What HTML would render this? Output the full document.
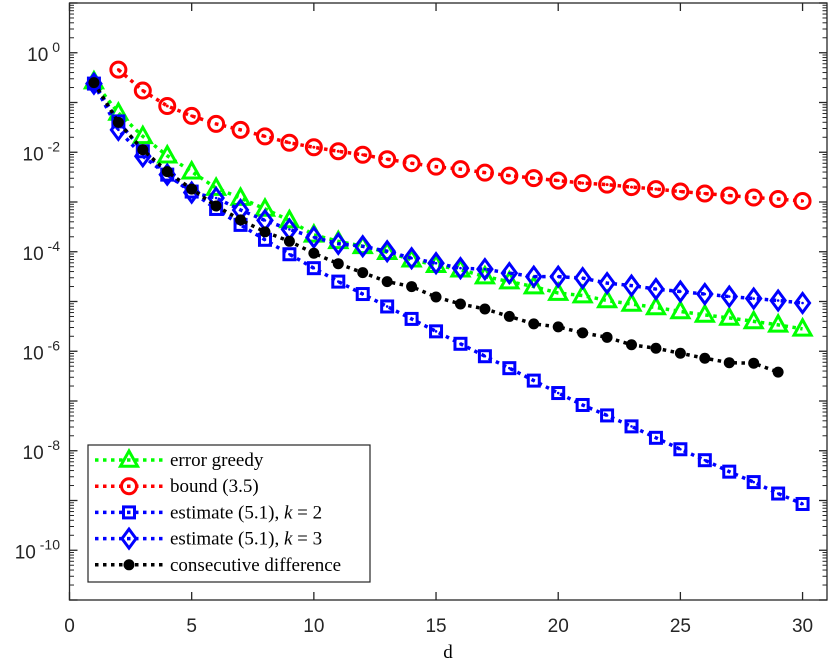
<!DOCTYPE html>
<html><head><meta charset="utf-8"><style>
html,body{margin:0;padding:0;background:#fff;}
svg{display:block;}
.tk{font-family:"Liberation Sans",sans-serif;font-size:19px;fill:#262626;}
.lg{font-family:"Liberation Serif",serif;font-size:19px;fill:#000;}
</style></head><body>
<svg id="chart" width="830" height="663" viewBox="0 0 830 663" xmlns="http://www.w3.org/2000/svg"></svg>
<script>
const dGreen=[1,2,3,4,5,6,7,8,9,10,11,12,13,14,15,16,17,18,19,20,21,22,23,24,25,26,27,28,29,30];
const logGreen=[-0.58,-1.21,-1.68,-2.07,-2.39,-2.72,-2.92,-3.14,-3.37,-3.66,-3.79,-3.89,-4.01,-4.16,-4.27,-4.36,-4.5,-4.6,-4.7,-4.83,-4.88,-4.98,-5.05,-5.12,-5.2,-5.27,-5.33,-5.4,-5.47,-5.55];
const dRed=[2,3,4,5,6,7,8,9,10,11,12,13,14,15,16,17,18,19,20,21,22,23,24,25,26,27,28,29,30];
const logRed=[-0.34,-0.76,-1.07,-1.27,-1.43,-1.55,-1.68,-1.81,-1.9,-1.98,-2.05,-2.14,-2.22,-2.29,-2.34,-2.41,-2.47,-2.52,-2.57,-2.62,-2.65,-2.7,-2.74,-2.79,-2.83,-2.87,-2.91,-2.94,-2.98];
const dSq=dGreen;
const logSq=[-0.62,-1.38,-1.98,-2.45,-2.79,-3.14,-3.46,-3.76,-4.05,-4.33,-4.6,-4.85,-5.1,-5.35,-5.6,-5.85,-6.1,-6.34,-6.59,-6.84,-7.08,-7.29,-7.51,-7.74,-7.97,-8.19,-8.42,-8.63,-8.86,-9.07];
const dDia=dGreen;
const logDia=[-0.62,-1.55,-2.08,-2.45,-2.81,-2.92,-3.16,-3.37,-3.55,-3.71,-3.84,-3.89,-3.99,-4.13,-4.23,-4.33,-4.35,-4.43,-4.5,-4.5,-4.53,-4.63,-4.68,-4.75,-4.8,-4.85,-4.9,-4.94,-4.98,-5.03];
const dBlk=[1,2,3,4,5,6,7,8,9,10,11,12,13,14,15,16,17,18,19,20,21,22,23,24,25,26,27,28,29];
const logBlk=[-0.6,-1.4,-1.95,-2.39,-2.74,-3.08,-3.36,-3.6,-3.79,-4.03,-4.24,-4.42,-4.6,-4.7,-4.91,-5.05,-5.15,-5.3,-5.45,-5.51,-5.63,-5.72,-5.87,-5.94,-6.04,-6.14,-6.23,-6.24,-6.42];
const xTicks=[0,5,10,15,20,25,30];
const yTickExps=[0,-2,-4,-6,-8,-10];

const L=69.5,R=827,T=3,B=600,XMIN=0,XMAX=31,YMIN=-11,YMAX=1;
const X=v=>L+(v-XMIN)/(XMAX-XMIN)*(R-L);
const Y=v=>B-(v-YMIN)/(YMAX-YMIN)*(B-T);
const svg=document.getElementById('chart');
const NS='http://www.w3.org/2000/svg';
function mk(tag,attrs,parent){const e=document.createElementNS(NS,tag);for(const k in attrs)e.setAttribute(k,attrs[k]);(parent||svg).appendChild(e);return e;}

// axes box
const box=mk('rect',{x:L,y:T,width:R-L,height:B-T,fill:'none',stroke:'#262626','stroke-width':1.3});


// x ticks
xTicks.forEach(t=>{
  const g=mk('g',{});
  
  
  mk('line',{x1:X(t),x2:X(t),y1:B,y2:B-8,stroke:'#262626','stroke-width':1.3},g);
  mk('line',{x1:X(t),x2:X(t),y1:T,y2:T+8,stroke:'#262626','stroke-width':1.3},g);
  const tx=mk('text',{x:X(t),y:632,'text-anchor':'middle',class:'tk'},g);tx.textContent=t;
});
// y ticks major & minor
for(let e=YMIN;e<=YMAX;e++){
  const g=mk('g',{});
  
  
  mk('line',{x1:L,x2:L+8,y1:Y(e),y2:Y(e),stroke:'#262626','stroke-width':1.3},g);
  mk('line',{x1:R,x2:R-8,y1:Y(e),y2:Y(e),stroke:'#262626','stroke-width':1.3},g);
  if(e<YMAX)for(let m=2;m<=9;m++){const yy=Y(e+Math.log10(m));
    mk('line',{x1:L,x2:L+4.5,y1:yy,y2:yy,stroke:'#262626','stroke-width':1},g);
    mk('line',{x1:R,x2:R-4.5,y1:yy,y2:yy,stroke:'#262626','stroke-width':1},g);}
}
yTickExps.forEach(e=>{
  const t=mk('text',{x:60,y:Y(e)+8,'text-anchor':'end',class:'tk'});
  
  
  t.innerHTML='10<tspan dy="-9" font-size="14"> '+e+'</tspan>';
});
const xl=mk('text',{x:448,y:658,'text-anchor':'middle',class:'lg'});


xl.textContent='d';

function marker(kind,cx,cy,g,scale){
  const s=scale||1;
  if(kind==='tri'){const h=9*s;mk('polygon',{points:`${cx},${cy-h} ${cx-h*0.95},${cy+h*0.7} ${cx+h*0.95},${cy+h*0.7}`,fill:'none',stroke:'#00ff00','stroke-width':3},g);}
  else if(kind==='circ'){mk('circle',{cx,cy,r:7.5*s,fill:'none',stroke:'#ff0000','stroke-width':3},g);mk('circle',{cx,cy,r:1.5,fill:'#ff0000'},g);}
  else if(kind==='sq'){const h=5.5*s;mk('rect',{x:cx-h,y:cy-h,width:2*h,height:2*h,fill:'none',stroke:'#0000ff','stroke-width':3},g);mk('circle',{cx,cy,r:1.3,fill:'#0000ff'},g);}
  else if(kind==='dia'){const w=7*s,h=9.5*s;mk('polygon',{points:`${cx},${cy-h} ${cx+w},${cy} ${cx},${cy+h} ${cx-w},${cy}`,fill:'none',stroke:'#0000ff','stroke-width':3},g);mk('circle',{cx,cy,r:1.3,fill:'#0000ff'},g);}
  else {mk('circle',{cx,cy,r:5.5*s,fill:'#000'},g);}
}
function series(name,xs,ys,color,kind){
  const g=mk('g',{});
  
  
  const pts=xs.map((x,i)=>X(x)+','+Y(ys[i])).join(' ');
  mk('polyline',{points:pts,fill:'none',stroke:color,'stroke-width':3.5,'stroke-dasharray':'3.5 4.5'},g);
  xs.forEach((x,i)=>marker(kind,X(x),Y(ys[i]),g));
}
series('series-error-greedy',dGreen,logGreen,'#00ff00','tri');
series('series-bound',dRed,logRed,'#ff0000','circ');
series('series-estimate-k2',dSq,logSq,'#0000ff','sq');
series('series-estimate-k3',dDia,logDia,'#0000ff','dia');
series('series-consecutive-difference',dBlk,logBlk,'#000000','dot');

// legend
const lg=mk('g',{});


mk('rect',{x:88,y:445,width:282,height:137,fill:'#fff',stroke:'#262626','stroke-width':1.2},lg);
const entries=[['error greedy','#00ff00','tri'],['bound (3.5)','#ff0000','circ'],['estimate (5.1), <tspan font-style="italic">k</tspan> = 2','#0000ff','sq'],['estimate (5.1), <tspan font-style="italic">k</tspan> = 3','#0000ff','dia'],['consecutive difference','#000000','dot']];
entries.forEach((en,i)=>{
  const y=460+i*26.2;
  const g=mk('g',{},lg);
  
  
  mk('line',{x1:95,x2:163,y1:y,y2:y,stroke:en[1],'stroke-width':3.5,'stroke-dasharray':'3.5 4.5'},g);
  marker(en[2],129,y,g);
  const t=mk('text',{x:170,y:y+6,class:'lg'},g);t.innerHTML=en[0];
});
</script>
</body></html>
